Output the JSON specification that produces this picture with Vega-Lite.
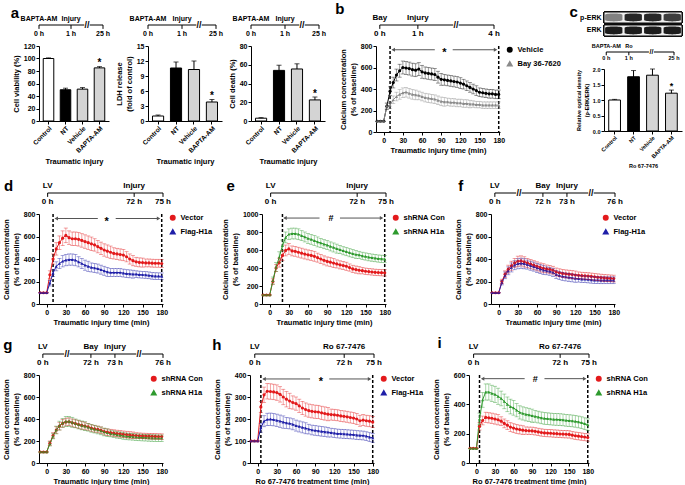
{
"$schema": "https://vega.github.io/schema/vega-lite/v6.json",
"background": "white",
"padding": {"left": 2, "top": 2, "right": 2, "bottom": 2},
"config": {
  "font": "Liberation Sans",
  "view": {"stroke": null},
  "axis": {"labelFontSize": 7, "labelFontWeight": "bold", "labelColor": "#000", "titleFontSize": 7.5, "titleFontWeight": "bold", "titleColor": "#000", "domainColor": "#000", "tickColor": "#000", "grid": false, "tickSize": 3, "labelPadding": 1, "titlePadding": 3, "labelOverlap": false, "labelFlush": false},
  "legend": {"labelFontSize": 7.5, "labelFontWeight": "bold", "labelColor": "#000", "symbolSize": 20, "rowPadding": 3, "padding": 0, "offset": 5},
  "concat": {"spacing": 10}
},
"resolve": {"scale": {"color": "independent", "shape": "independent", "opacity": "independent"}},
"spacing": 10,
"vconcat": [
{
 "resolve": {"scale": {"color": "independent", "shape": "independent", "opacity": "independent"}},
 "spacing": 8,
 "hconcat": [
  {
   "spacing": 4,
   "hconcat": [
    {"spacing": 4, "vconcat": [
     {"width": 64, "height": 26,
      "data": {"values": [{"k": "0 h", "top": "BAPTA-AM", "kind": "t"}, {"k": "1 h", "top": "Injury", "kind": "t"}, {"k": "br", "top": "", "kind": "b"}, {"k": "25 h", "top": "", "kind": "t"}]},
      "encoding": {"x": {"field": "k", "type": "ordinal", "scale": {"type": "point", "domain": ["0 h", "s1", "1 h", "br", "25 h"], "padding": 0}, "axis": null}, "y": {"datum": 0, "type": "quantitative", "scale": {"domain": [-1, 1]}, "axis": null}},
      "layer": [
       {"mark": {"type": "line", "color": "black", "strokeWidth": 1}},
       {"mark": {"type": "rule", "color": "black"}, "transform": [{"filter": "datum.kind=='t'"}], "encoding": {"y2": {"datum": -0.3}}},
       {"mark": {"type": "point", "shape": "square", "filled": true, "color": "white", "size": 30, "opacity": 1}, "transform": [{"filter": "datum.kind=='b'"}]},
       {"mark": {"type": "text", "text": "//", "fontSize": 9, "fontWeight": "bold", "baseline": "middle"}, "transform": [{"filter": "datum.kind=='b'"}]},
       {"mark": {"type": "text", "baseline": "bottom", "dy": -3, "fontSize": 7, "fontWeight": "bold"}, "encoding": {"text": {"field": "top"}}},
       {"mark": {"type": "text", "baseline": "top", "dy": 5, "fontSize": 7, "fontWeight": "bold"}, "transform": [{"filter": "datum.kind=='t'"}], "encoding": {"text": {"field": "k"}}},
       {"data": {"values": [{}]}, "mark": {"type": "text", "text": "a", "fontSize": 15, "fontWeight": "bold", "dx": -24, "dy": -12, "baseline": "middle"}, "encoding": {"x": {"datum": "0 h", "type": "ordinal"}}}
      ]},
     {"width": 70, "height": 75,
      "data": {"values": [{"g": "Control", "v": 100, "e": 1}, {"g": "NT", "v": 50, "e": 2.5}, {"g": "Vehicle", "v": 51, "e": 2.5}, {"g": "BAPTA-AM", "v": 85, "e": 2}]},
      "encoding": {"x": {"field": "g", "type": "nominal", "sort": null, "scale": {"paddingInner": 0.38, "paddingOuter": 0.25}, "axis": {"labelAngle": -45, "labelFontSize": 6.5, "title": "Traumatic injury", "titleFontSize": 7.5, "titlePadding": 4}},
        "y": {"field": "v", "type": "quantitative", "scale": {"domain": [0, 120], "nice": false}, "axis": {"values": [0, 20, 40, 60, 80, 100, 120], "labelOverlap": false, "title": "Cell viability (%)"}}},
      "layer": [
       {"mark": {"type": "errorbar", "ticks": {"size": 5}, "color": "black", "thickness": 1}, "encoding": {"yError": {"field": "e"}}},
       {"mark": {"type": "bar", "stroke": "black", "strokeWidth": 1}, "encoding": {"color": {"field": "g", "type": "nominal", "scale": {"domain": ["Control", "NT", "Vehicle", "BAPTA-AM"], "range": ["#ffffff", "#000000", "#d4d4d4", "#d4d4d4"]}, "legend": null}}},
       {"data": {"values": [{"g": "BAPTA-AM", "v": 88}]}, "mark": {"type": "text", "text": "*", "fontSize": 10, "fontWeight": "bold", "baseline": "alphabetic"}}
      ]}
    ]},
    {"spacing": 4, "vconcat": [
     {"width": 68, "height": 26,
      "data": {"values": [{"k": "0 h", "top": "BAPTA-AM", "kind": "t"}, {"k": "1 h", "top": "Injury", "kind": "t"}, {"k": "br", "top": "", "kind": "b"}, {"k": "25 h", "top": "", "kind": "t"}]},
      "encoding": {"x": {"field": "k", "type": "ordinal", "scale": {"type": "point", "domain": ["0 h", "s1", "1 h", "br", "25 h"], "padding": 0}, "axis": null}, "y": {"datum": 0, "type": "quantitative", "scale": {"domain": [-1, 1]}, "axis": null}},
      "layer": [
       {"mark": {"type": "line", "color": "black", "strokeWidth": 1}},
       {"mark": {"type": "rule", "color": "black"}, "transform": [{"filter": "datum.kind=='t'"}], "encoding": {"y2": {"datum": -0.3}}},
       {"mark": {"type": "point", "shape": "square", "filled": true, "color": "white", "size": 30, "opacity": 1}, "transform": [{"filter": "datum.kind=='b'"}]},
       {"mark": {"type": "text", "text": "//", "fontSize": 9, "fontWeight": "bold", "baseline": "middle"}, "transform": [{"filter": "datum.kind=='b'"}]},
       {"mark": {"type": "text", "baseline": "bottom", "dy": -3, "fontSize": 7, "fontWeight": "bold"}, "encoding": {"text": {"field": "top"}}},
       {"mark": {"type": "text", "baseline": "top", "dy": 5, "fontSize": 7, "fontWeight": "bold"}, "transform": [{"filter": "datum.kind=='t'"}], "encoding": {"text": {"field": "k"}}}
      ]},
     {"width": 74, "height": 75,
      "data": {"values": [{"g": "Control", "v": 1.0, "e": 0.2}, {"g": "NT", "v": 10.6, "e": 1.2}, {"g": "Vehicle", "v": 10.3, "e": 1.7}, {"g": "BAPTA-AM", "v": 3.8, "e": 0.5}]},
      "encoding": {"x": {"field": "g", "type": "nominal", "sort": null, "scale": {"paddingInner": 0.38, "paddingOuter": 0.25}, "axis": {"labelAngle": -45, "labelFontSize": 6.5, "title": "Traumatic injury", "titleFontSize": 7.5, "titlePadding": 4}},
        "y": {"field": "v", "type": "quantitative", "scale": {"domain": [0, 15], "nice": false}, "axis": {"values": [0, 3, 6, 9, 12, 15], "labelOverlap": false, "title": ["LDH release", "(fold of control)"]}}},
      "layer": [
       {"mark": {"type": "errorbar", "ticks": {"size": 5}, "color": "black", "thickness": 1}, "encoding": {"yError": {"field": "e"}}},
       {"mark": {"type": "bar", "stroke": "black", "strokeWidth": 1}, "encoding": {"color": {"field": "g", "type": "nominal", "scale": {"domain": ["Control", "NT", "Vehicle", "BAPTA-AM"], "range": ["#ffffff", "#000000", "#d4d4d4", "#d4d4d4"]}, "legend": null}}},
       {"data": {"values": [{"g": "BAPTA-AM", "v": 4.4}]}, "mark": {"type": "text", "text": "*", "fontSize": 10, "fontWeight": "bold", "baseline": "alphabetic"}}
      ]}
    ]},
    {"spacing": 4, "vconcat": [
     {"width": 68, "height": 26,
      "data": {"values": [{"k": "0 h", "top": "BAPTA-AM", "kind": "t"}, {"k": "1 h", "top": "Injury", "kind": "t"}, {"k": "br", "top": "", "kind": "b"}, {"k": "25 h", "top": "", "kind": "t"}]},
      "encoding": {"x": {"field": "k", "type": "ordinal", "scale": {"type": "point", "domain": ["0 h", "s1", "1 h", "br", "25 h"], "padding": 0}, "axis": null}, "y": {"datum": 0, "type": "quantitative", "scale": {"domain": [-1, 1]}, "axis": null}},
      "layer": [
       {"mark": {"type": "line", "color": "black", "strokeWidth": 1}},
       {"mark": {"type": "rule", "color": "black"}, "transform": [{"filter": "datum.kind=='t'"}], "encoding": {"y2": {"datum": -0.3}}},
       {"mark": {"type": "point", "shape": "square", "filled": true, "color": "white", "size": 30, "opacity": 1}, "transform": [{"filter": "datum.kind=='b'"}]},
       {"mark": {"type": "text", "text": "//", "fontSize": 9, "fontWeight": "bold", "baseline": "middle"}, "transform": [{"filter": "datum.kind=='b'"}]},
       {"mark": {"type": "text", "baseline": "bottom", "dy": -3, "fontSize": 7, "fontWeight": "bold"}, "encoding": {"text": {"field": "top"}}},
       {"mark": {"type": "text", "baseline": "top", "dy": 5, "fontSize": 7, "fontWeight": "bold"}, "transform": [{"filter": "datum.kind=='t'"}], "encoding": {"text": {"field": "k"}}}
      ]},
     {"width": 74, "height": 75,
      "data": {"values": [{"g": "Control", "v": 3, "e": 0.6}, {"g": "NT", "v": 54, "e": 5.5}, {"g": "Vehicle", "v": 55.5, "e": 5.5}, {"g": "BAPTA-AM", "v": 22.5, "e": 3}]},
      "encoding": {"x": {"field": "g", "type": "nominal", "sort": null, "scale": {"paddingInner": 0.38, "paddingOuter": 0.25}, "axis": {"labelAngle": -45, "labelFontSize": 6.5, "title": "Traumatic injury", "titleFontSize": 7.5, "titlePadding": 4}},
        "y": {"field": "v", "type": "quantitative", "scale": {"domain": [0, 80], "nice": false}, "axis": {"values": [0, 20, 40, 60, 80], "labelOverlap": false, "title": "Cell death (%)"}}},
      "layer": [
       {"mark": {"type": "errorbar", "ticks": {"size": 5}, "color": "black", "thickness": 1}, "encoding": {"yError": {"field": "e"}}},
       {"mark": {"type": "bar", "stroke": "black", "strokeWidth": 1}, "encoding": {"color": {"field": "g", "type": "nominal", "scale": {"domain": ["Control", "NT", "Vehicle", "BAPTA-AM"], "range": ["#ffffff", "#000000", "#d4d4d4", "#d4d4d4"]}, "legend": null}}},
       {"data": {"values": [{"g": "BAPTA-AM", "v": 26}]}, "mark": {"type": "text", "text": "*", "fontSize": 10, "fontWeight": "bold", "baseline": "alphabetic"}}
      ]}
    ]}
   ]
  },
  {"spacing": 4, "resolve": {"scale": {"color": "independent", "shape": "independent"}}, "vconcat": [
   {"width": 118, "height": 26,
    "data": {"values": [{"k": "0 h", "top": "Bay", "kind": "t"}, {"k": "1 h", "top": "Injury", "kind": "t"}, {"k": "br", "top": "", "kind": "b"}, {"k": "4 h", "top": "", "kind": "t"}]},
    "encoding": {"x": {"field": "k", "type": "ordinal", "scale": {"type": "point", "domain": ["0 h", "1 h", "br", "4 h"], "padding": 0.05, "align": 1}, "axis": null}, "y": {"datum": 0, "type": "quantitative", "scale": {"domain": [-1, 1]}, "axis": null}},
    "layer": [
     {"mark": {"type": "line", "color": "black", "strokeWidth": 1}},
     {"mark": {"type": "rule", "color": "black"}, "transform": [{"filter": "datum.kind=='t'"}], "encoding": {"y2": {"datum": -0.3}}},
     {"mark": {"type": "point", "shape": "square", "filled": true, "color": "white", "size": 30, "opacity": 1}, "transform": [{"filter": "datum.kind=='b'"}]},
     {"mark": {"type": "text", "text": "//", "fontSize": 9, "fontWeight": "bold", "baseline": "middle"}, "transform": [{"filter": "datum.kind=='b'"}]},
     {"mark": {"type": "text", "baseline": "bottom", "dy": -3, "fontSize": 8, "fontWeight": "bold"}, "encoding": {"text": {"field": "top"}}},
     {"mark": {"type": "text", "baseline": "top", "dy": 5, "fontSize": 8, "fontWeight": "bold"}, "transform": [{"filter": "datum.kind=='t'"}], "encoding": {"text": {"field": "k"}}},
     {"data": {"values": [{}]}, "mark": {"type": "text", "text": "b", "fontSize": 15, "fontWeight": "bold", "dx": -40, "dy": -16, "baseline": "middle"}, "encoding": {"x": {"datum": "0 h", "type": "ordinal"}}}
    ]},
   {"width": 124, "height": 86,
    "encoding": {"x": {"field": "t", "type": "quantitative", "scale": {"domain": [-12, 182], "nice": false, "zero": false}, "axis": {"values": [0, 30, 60, 90, 120, 150, 180], "title": "Traumatic injury time (min)"}},
      "y": {"field": "y", "type": "quantitative", "scale": {"domain": [0, 800], "nice": false}, "axis": {"values": [0, 200, 400, 600, 800], "labelOverlap": false, "title": ["Calcium concentration", "(% of baseline)"]}}},
    "layer": [
     {"data": {"values": [{"t": 10}, {"t": 180}]}, "mark": {"type": "rule", "strokeDash": [3, 2], "strokeWidth": 1.5, "color": "black"}, "encoding": {"y": null}},
     {"data": {"values": [{"t": 14, "t2": 80, "y": 765}, {"t": 108, "t2": 176, "y": 765}]}, "mark": {"type": "rule", "color": "#555", "strokeWidth": 1}, "encoding": {"x2": {"field": "t2"}}},
     {"data": {"values": [{"t": 15, "y": 765}]}, "mark": {"type": "point", "shape": "triangle-left", "filled": true, "size": 16, "color": "#555", "opacity": 1}},
     {"data": {"values": [{"t": 175, "y": 765}]}, "mark": {"type": "point", "shape": "triangle-right", "filled": true, "size": 16, "color": "#555", "opacity": 1}},
     {"data": {"values": [{"t": 95, "y": 765}]}, "mark": {"type": "text", "text": "*", "fontSize": 11, "fontWeight": "bold", "baseline": "alphabetic", "dy": 6}},
     {"data": {"values": [
{"s":"Vehicle","t":-10,"y":100,"e":0},{"s":"Vehicle","t":-5,"y":100,"e":0},{"s":"Vehicle","t":0,"y":100,"e":0},{"s":"Vehicle","t":5,"y":240,"e":30},{"s":"Vehicle","t":10,"y":380,"e":40},{"s":"Vehicle","t":15,"y":460,"e":50},{"s":"Vehicle","t":20,"y":530,"e":55},{"s":"Vehicle","t":25,"y":570,"e":60},{"s":"Vehicle","t":30,"y":600,"e":60},{"s":"Vehicle","t":35,"y":595,"e":60},{"s":"Vehicle","t":40,"y":590,"e":60},{"s":"Vehicle","t":45,"y":580,"e":60},{"s":"Vehicle","t":50,"y":575,"e":60},{"s":"Vehicle","t":55,"y":585,"e":60},{"s":"Vehicle","t":60,"y":560,"e":60},{"s":"Vehicle","t":65,"y":550,"e":55},{"s":"Vehicle","t":70,"y":545,"e":55},{"s":"Vehicle","t":75,"y":540,"e":55},{"s":"Vehicle","t":80,"y":535,"e":55},{"s":"Vehicle","t":85,"y":510,"e":55},{"s":"Vehicle","t":90,"y":490,"e":55},{"s":"Vehicle","t":95,"y":485,"e":50},{"s":"Vehicle","t":100,"y":480,"e":50},{"s":"Vehicle","t":105,"y":475,"e":50},{"s":"Vehicle","t":110,"y":470,"e":50},{"s":"Vehicle","t":115,"y":465,"e":50},{"s":"Vehicle","t":120,"y":455,"e":50},{"s":"Vehicle","t":125,"y":445,"e":45},{"s":"Vehicle","t":130,"y":430,"e":45},{"s":"Vehicle","t":135,"y":415,"e":45},{"s":"Vehicle","t":140,"y":400,"e":45},{"s":"Vehicle","t":145,"y":385,"e":45},{"s":"Vehicle","t":150,"y":370,"e":40},{"s":"Vehicle","t":155,"y":365,"e":40},{"s":"Vehicle","t":160,"y":360,"e":40},{"s":"Vehicle","t":165,"y":355,"e":40},{"s":"Vehicle","t":170,"y":355,"e":40},{"s":"Vehicle","t":175,"y":350,"e":40},{"s":"Vehicle","t":180,"y":350,"e":40},
{"s":"Bay 36-7620","t":-10,"y":100,"e":0},{"s":"Bay 36-7620","t":-5,"y":100,"e":0},{"s":"Bay 36-7620","t":0,"y":100,"e":0},{"s":"Bay 36-7620","t":5,"y":240,"e":25},{"s":"Bay 36-7620","t":10,"y":250,"e":30},{"s":"Bay 36-7620","t":15,"y":300,"e":35},{"s":"Bay 36-7620","t":20,"y":330,"e":40},{"s":"Bay 36-7620","t":25,"y":350,"e":45},{"s":"Bay 36-7620","t":30,"y":365,"e":45},{"s":"Bay 36-7620","t":35,"y":370,"e":45},{"s":"Bay 36-7620","t":40,"y":360,"e":45},{"s":"Bay 36-7620","t":45,"y":350,"e":45},{"s":"Bay 36-7620","t":50,"y":345,"e":45},{"s":"Bay 36-7620","t":55,"y":340,"e":40},{"s":"Bay 36-7620","t":60,"y":330,"e":40},{"s":"Bay 36-7620","t":65,"y":320,"e":40},{"s":"Bay 36-7620","t":70,"y":315,"e":40},{"s":"Bay 36-7620","t":75,"y":310,"e":40},{"s":"Bay 36-7620","t":80,"y":305,"e":40},{"s":"Bay 36-7620","t":85,"y":295,"e":40},{"s":"Bay 36-7620","t":90,"y":285,"e":40},{"s":"Bay 36-7620","t":95,"y":280,"e":40},{"s":"Bay 36-7620","t":100,"y":280,"e":35},{"s":"Bay 36-7620","t":105,"y":275,"e":35},{"s":"Bay 36-7620","t":110,"y":275,"e":35},{"s":"Bay 36-7620","t":115,"y":270,"e":35},{"s":"Bay 36-7620","t":120,"y":270,"e":35},{"s":"Bay 36-7620","t":125,"y":265,"e":35},{"s":"Bay 36-7620","t":130,"y":265,"e":35},{"s":"Bay 36-7620","t":135,"y":260,"e":35},{"s":"Bay 36-7620","t":140,"y":260,"e":30},{"s":"Bay 36-7620","t":145,"y":255,"e":30},{"s":"Bay 36-7620","t":150,"y":255,"e":30},{"s":"Bay 36-7620","t":155,"y":250,"e":30},{"s":"Bay 36-7620","t":160,"y":250,"e":30},{"s":"Bay 36-7620","t":165,"y":250,"e":30},{"s":"Bay 36-7620","t":170,"y":250,"e":30},{"s":"Bay 36-7620","t":175,"y":250,"e":30},{"s":"Bay 36-7620","t":180,"y":250,"e":30}
     ]},
      "encoding": {"color": {"field": "s", "type": "nominal", "scale": {"domain": ["Vehicle", "Bay 36-7620"], "range": ["#000000", "#8a8a8a"]}, "legend": {"title": null}}},
      "layer": [
       {"mark": {"type": "line", "strokeWidth": 1}},
       {"mark": {"type": "point", "filled": true, "size": 10, "opacity": 1}, "encoding": {"shape": {"field": "s", "type": "nominal", "scale": {"domain": ["Vehicle", "Bay 36-7620"], "range": ["circle", "triangle-up"]}, "legend": {"title": null}}}},
       {"mark": {"type": "errorbar", "ticks": {"size": 4}, "thickness": 0.8, "opacity": 0.5}, "encoding": {"yError": {"field": "e"}}}
      ]}
    ]}
  ]},
  {"spacing": 4, "resolve": {"scale": {"color": "independent", "opacity": "independent"}}, "vconcat": [
   {"width": 78, "height": 24,
    "data": {"values": [{"r": "p-ERK", "l": "1", "i": 0.5}, {"r": "p-ERK", "l": "2", "i": 0.9}, {"r": "p-ERK", "l": "3", "i": 0.9}, {"r": "p-ERK", "l": "4", "i": 0.8}, {"r": "ERK", "l": "1", "i": 0.95}, {"r": "ERK", "l": "2", "i": 0.95}, {"r": "ERK", "l": "3", "i": 0.95}, {"r": "ERK", "l": "4", "i": 0.95}]},
    "layer": [
     {"mark": {"type": "rect", "fill": "#f0f0f0", "stroke": "black", "strokeWidth": 1}, "encoding": {"y": {"field": "r", "type": "nominal", "sort": ["p-ERK", "ERK"], "scale": {"paddingInner": 0.15, "paddingOuter": 0}, "axis": {"title": null, "domain": false, "ticks": false, "labelFontSize": 7, "labelPadding": 3}}}},
     {"mark": {"type": "point", "shape": "M-1,-0.3C-1,-0.5 1,-0.5 1,-0.3L1,0.3C1,0.5 -1,0.5 -1,0.3Z", "filled": true, "color": "#111", "size": 300}, "encoding": {"x": {"field": "l", "type": "ordinal", "scale": {"type": "point", "padding": 0.5}, "axis": null}, "y": {"field": "r", "type": "nominal", "sort": ["p-ERK", "ERK"]}, "opacity": {"field": "i", "type": "quantitative", "scale": {"domain": [0, 1], "range": [0, 1]}, "legend": null}}},
     {"data": {"values": [{}]}, "mark": {"type": "text", "text": "c", "fontSize": 15, "fontWeight": "bold", "dx": -40, "dy": -6, "baseline": "middle"}, "encoding": {"x": {"datum": "1", "type": "ordinal"}, "y": {"datum": "p-ERK", "type": "nominal"}}}
    ]},
   {"width": 70, "height": 22,
    "data": {"values": [{"k": "0 h", "top": "BAPTA-AM", "kind": "t"}, {"k": "1 h", "top": "Ro", "kind": "t"}, {"k": "br", "top": "", "kind": "b"}, {"k": "25 h", "top": "", "kind": "t"}]},
    "encoding": {"x": {"field": "k", "type": "ordinal", "scale": {"type": "point", "domain": ["0 h", "1 h", "br", "25 h"], "padding": 0.05, "align": 1}, "axis": null}, "y": {"datum": 0, "type": "quantitative", "scale": {"domain": [-1, 1]}, "axis": null}},
    "layer": [
     {"mark": {"type": "line", "color": "black", "strokeWidth": 1}},
     {"mark": {"type": "rule", "color": "black"}, "transform": [{"filter": "datum.kind=='t'"}], "encoding": {"y2": {"datum": -0.3}}},
     {"mark": {"type": "point", "shape": "square", "filled": true, "color": "white", "size": 25, "opacity": 1}, "transform": [{"filter": "datum.kind=='b'"}]},
     {"mark": {"type": "text", "text": "//", "fontSize": 7, "fontWeight": "bold", "baseline": "middle"}, "transform": [{"filter": "datum.kind=='b'"}]},
     {"mark": {"type": "text", "baseline": "bottom", "dy": -3, "fontSize": 5.5, "fontWeight": "bold"}, "encoding": {"text": {"field": "top"}}},
     {"mark": {"type": "text", "baseline": "top", "dy": 4, "fontSize": 5.5, "fontWeight": "bold"}, "transform": [{"filter": "datum.kind=='t'"}], "encoding": {"text": {"field": "k"}}}
    ]},
   {"width": 78, "height": 62,
    "data": {"values": [{"g": "Control", "v": 1.0, "e": 0.02}, {"g": "NT", "v": 1.75, "e": 0.2}, {"g": "Vehicle", "v": 1.8, "e": 0.2}, {"g": "BAPTA-AM", "v": 1.22, "e": 0.1}]},
    "encoding": {"x": {"field": "g", "type": "nominal", "sort": null, "scale": {"paddingInner": 0.38, "paddingOuter": 0.25}, "axis": {"labelAngle": -45, "labelFontSize": 5.5, "title": "Ro 67-7476", "titleFontSize": 5.5, "titlePadding": 4}},
      "y": {"field": "v", "type": "quantitative", "scale": {"domain": [0, 2], "nice": false}, "axis": {"values": [0, 0.5, 1, 1.5, 2], "labelOverlap": false, "format": ".1f", "labelFontSize": 5.5, "titleFontSize": 5.5, "title": ["Relative optical density", "(p-ERK/ERK)"]}}},
    "layer": [
     {"mark": {"type": "errorbar", "ticks": {"size": 5}, "color": "black", "thickness": 1}, "encoding": {"yError": {"field": "e"}}},
     {"mark": {"type": "bar", "stroke": "black", "strokeWidth": 1}, "encoding": {"color": {"field": "g", "type": "nominal", "scale": {"domain": ["Control", "NT", "Vehicle", "BAPTA-AM"], "range": ["#ffffff", "#000000", "#d4d4d4", "#d4d4d4"]}, "legend": null}}},
     {"data": {"values": [{"g": "BAPTA-AM", "v": 1.34}]}, "mark": {"type": "text", "text": "*", "fontSize": 9, "fontWeight": "bold", "baseline": "alphabetic"}}
    ]}
  ]}
 ]
},
{
 "resolve": {"scale": {"color": "independent", "shape": "independent"}},
 "spacing": 8,
 "hconcat": [
  {"spacing": 4, "resolve": {"scale": {"color": "independent", "shape": "independent"}}, "vconcat": [
   {"width": 124, "height": 26,
    "data": {"values": [{"k": "0 h", "top": "LV", "kind": "t"}, {"k": "72 h", "top": "Injury", "kind": "t"}, {"k": "75 h", "top": "", "kind": "t"}]},
    "encoding": {"x": {"field": "k", "type": "ordinal", "scale": {"type": "point", "domain": ["0 h", "q1", "q2", "72 h", "75 h"], "padding": 0.15, "align": 1}, "axis": null}, "y": {"datum": 0, "type": "quantitative", "scale": {"domain": [-1, 1]}, "axis": null}},
    "layer": [
     {"mark": {"type": "line", "color": "black", "strokeWidth": 1}},
     {"mark": {"type": "rule", "color": "black"}, "transform": [{"filter": "datum.kind=='t'"}], "encoding": {"y2": {"datum": -0.3}}},
     {"mark": {"type": "text", "baseline": "bottom", "dy": -3, "fontSize": 8, "fontWeight": "bold"}, "encoding": {"text": {"field": "top"}}},
     {"mark": {"type": "text", "baseline": "top", "dy": 5, "fontSize": 8, "fontWeight": "bold"}, "transform": [{"filter": "datum.kind=='t'"}], "encoding": {"text": {"field": "k"}}},
     {"data": {"values": [{}]}, "mark": {"type": "text", "text": "d", "fontSize": 15, "fontWeight": "bold", "dx": -39, "dy": -7, "baseline": "middle"}, "encoding": {"x": {"datum": "0 h", "type": "ordinal"}}}
    ]},
   {"width": 124, "height": 90,
    "encoding": {"x": {"field": "t", "type": "quantitative", "scale": {"domain": [-12, 182], "nice": false, "zero": false}, "axis": {"values": [0, 30, 60, 90, 120, 150, 180], "title": "Traumatic injury time (min)"}},
      "y": {"field": "y", "type": "quantitative", "scale": {"domain": [0, 800], "nice": false}, "axis": {"values": [0, 200, 400, 600, 800], "labelOverlap": false, "title": ["Calcium concentration", "(% of baseline)"]}}},
    "layer": [
     {"data": {"values": [{"t": 10}, {"t": 180}]}, "mark": {"type": "rule", "strokeDash": [3, 2], "strokeWidth": 1.5, "color": "black"}, "encoding": {"y": null}},
     {"data": {"values": [{"t": 14, "t2": 80, "y": 760}, {"t": 108, "t2": 176, "y": 760}]}, "mark": {"type": "rule", "color": "#555", "strokeWidth": 1}, "encoding": {"x2": {"field": "t2"}}},
     {"data": {"values": [{"t": 15, "y": 760}]}, "mark": {"type": "point", "shape": "triangle-left", "filled": true, "size": 16, "color": "#555", "opacity": 1}},
     {"data": {"values": [{"t": 175, "y": 760}]}, "mark": {"type": "point", "shape": "triangle-right", "filled": true, "size": 16, "color": "#555", "opacity": 1}},
     {"data": {"values": [{"t": 94, "y": 760}]}, "mark": {"type": "text", "text": "*", "fontSize": 11, "fontWeight": "bold", "baseline": "alphabetic", "dy": 6}},
     {"data": {"values": [
{"s":"Vector","t":-10,"y":100,"e":0},{"s":"Vector","t":-5,"y":100,"e":0},{"s":"Vector","t":0,"y":100,"e":0},{"s":"Vector","t":5,"y":260,"e":35},{"s":"Vector","t":10,"y":400,"e":45},{"s":"Vector","t":15,"y":490,"e":55},{"s":"Vector","t":20,"y":545,"e":60},{"s":"Vector","t":25,"y":585,"e":65},{"s":"Vector","t":30,"y":610,"e":65},{"s":"Vector","t":35,"y":590,"e":60},{"s":"Vector","t":40,"y":580,"e":60},{"s":"Vector","t":45,"y":580,"e":60},{"s":"Vector","t":50,"y":575,"e":60},{"s":"Vector","t":55,"y":565,"e":60},{"s":"Vector","t":60,"y":555,"e":60},{"s":"Vector","t":65,"y":545,"e":60},{"s":"Vector","t":70,"y":535,"e":60},{"s":"Vector","t":75,"y":525,"e":55},{"s":"Vector","t":80,"y":510,"e":55},{"s":"Vector","t":85,"y":495,"e":55},{"s":"Vector","t":90,"y":480,"e":55},{"s":"Vector","t":95,"y":470,"e":55},{"s":"Vector","t":100,"y":460,"e":55},{"s":"Vector","t":105,"y":450,"e":50},{"s":"Vector","t":110,"y":445,"e":50},{"s":"Vector","t":115,"y":440,"e":50},{"s":"Vector","t":120,"y":435,"e":50},{"s":"Vector","t":125,"y":420,"e":45},{"s":"Vector","t":130,"y":400,"e":45},{"s":"Vector","t":135,"y":385,"e":45},{"s":"Vector","t":140,"y":375,"e":40},{"s":"Vector","t":145,"y":370,"e":40},{"s":"Vector","t":150,"y":368,"e":40},{"s":"Vector","t":155,"y":365,"e":35},{"s":"Vector","t":160,"y":365,"e":35},{"s":"Vector","t":165,"y":363,"e":35},{"s":"Vector","t":170,"y":362,"e":35},{"s":"Vector","t":175,"y":362,"e":35},{"s":"Vector","t":180,"y":360,"e":35},
{"s":"Flag-H1a","t":-10,"y":100,"e":0},{"s":"Flag-H1a","t":-5,"y":100,"e":0},{"s":"Flag-H1a","t":0,"y":100,"e":0},{"s":"Flag-H1a","t":5,"y":185,"e":25},{"s":"Flag-H1a","t":10,"y":275,"e":30},{"s":"Flag-H1a","t":15,"y":335,"e":40},{"s":"Flag-H1a","t":20,"y":360,"e":45},{"s":"Flag-H1a","t":25,"y":380,"e":50},{"s":"Flag-H1a","t":30,"y":390,"e":50},{"s":"Flag-H1a","t":35,"y":395,"e":50},{"s":"Flag-H1a","t":40,"y":395,"e":50},{"s":"Flag-H1a","t":45,"y":390,"e":50},{"s":"Flag-H1a","t":50,"y":375,"e":45},{"s":"Flag-H1a","t":55,"y":360,"e":45},{"s":"Flag-H1a","t":60,"y":345,"e":45},{"s":"Flag-H1a","t":65,"y":335,"e":45},{"s":"Flag-H1a","t":70,"y":325,"e":40},{"s":"Flag-H1a","t":75,"y":320,"e":40},{"s":"Flag-H1a","t":80,"y":315,"e":40},{"s":"Flag-H1a","t":85,"y":305,"e":40},{"s":"Flag-H1a","t":90,"y":295,"e":40},{"s":"Flag-H1a","t":95,"y":285,"e":40},{"s":"Flag-H1a","t":100,"y":280,"e":35},{"s":"Flag-H1a","t":105,"y":280,"e":35},{"s":"Flag-H1a","t":110,"y":280,"e":35},{"s":"Flag-H1a","t":115,"y":280,"e":35},{"s":"Flag-H1a","t":120,"y":275,"e":35},{"s":"Flag-H1a","t":125,"y":270,"e":35},{"s":"Flag-H1a","t":130,"y":268,"e":35},{"s":"Flag-H1a","t":135,"y":265,"e":35},{"s":"Flag-H1a","t":140,"y":265,"e":30},{"s":"Flag-H1a","t":145,"y":262,"e":30},{"s":"Flag-H1a","t":150,"y":260,"e":30},{"s":"Flag-H1a","t":155,"y":258,"e":30},{"s":"Flag-H1a","t":160,"y":255,"e":30},{"s":"Flag-H1a","t":165,"y":250,"e":30},{"s":"Flag-H1a","t":170,"y":248,"e":30},{"s":"Flag-H1a","t":175,"y":247,"e":30},{"s":"Flag-H1a","t":180,"y":246,"e":30}
     ]},
      "encoding": {"color": {"field": "s", "type": "nominal", "scale": {"domain": ["Vector", "Flag-H1a"], "range": ["#e31a1c", "#1f1fa8"]}, "legend": {"title": null}}},
      "layer": [
       {"mark": {"type": "line", "strokeWidth": 1}},
       {"mark": {"type": "point", "filled": true, "size": 10, "opacity": 1}, "encoding": {"shape": {"field": "s", "type": "nominal", "scale": {"domain": ["Vector", "Flag-H1a"], "range": ["circle", "triangle-up"]}, "legend": {"title": null}}}},
       {"mark": {"type": "errorbar", "ticks": {"size": 4}, "thickness": 0.8, "opacity": 0.5}, "encoding": {"yError": {"field": "e"}}}
      ]}
    ]}
  ]},
  {"spacing": 4, "resolve": {"scale": {"color": "independent", "shape": "independent"}}, "vconcat": [
   {"width": 124, "height": 26,
    "data": {"values": [{"k": "0 h", "top": "LV", "kind": "t"}, {"k": "72 h", "top": "Injury", "kind": "t"}, {"k": "75 h", "top": "", "kind": "t"}]},
    "encoding": {"x": {"field": "k", "type": "ordinal", "scale": {"type": "point", "domain": ["0 h", "q1", "q2", "72 h", "75 h"], "padding": 0.15, "align": 1}, "axis": null}, "y": {"datum": 0, "type": "quantitative", "scale": {"domain": [-1, 1]}, "axis": null}},
    "layer": [
     {"mark": {"type": "line", "color": "black", "strokeWidth": 1}},
     {"mark": {"type": "rule", "color": "black"}, "transform": [{"filter": "datum.kind=='t'"}], "encoding": {"y2": {"datum": -0.3}}},
     {"mark": {"type": "text", "baseline": "bottom", "dy": -3, "fontSize": 8, "fontWeight": "bold"}, "encoding": {"text": {"field": "top"}}},
     {"mark": {"type": "text", "baseline": "top", "dy": 5, "fontSize": 8, "fontWeight": "bold"}, "transform": [{"filter": "datum.kind=='t'"}], "encoding": {"text": {"field": "k"}}},
     {"data": {"values": [{}]}, "mark": {"type": "text", "text": "e", "fontSize": 15, "fontWeight": "bold", "dx": -40, "dy": -7, "baseline": "middle"}, "encoding": {"x": {"datum": "0 h", "type": "ordinal"}}}
    ]},
   {"width": 124, "height": 90,
    "encoding": {"x": {"field": "t", "type": "quantitative", "scale": {"domain": [-12, 182], "nice": false, "zero": false}, "axis": {"values": [0, 30, 60, 90, 120, 150, 180], "title": "Traumatic injury time (min)"}},
      "y": {"field": "y", "type": "quantitative", "scale": {"domain": [0, 1000], "nice": false}, "axis": {"values": [0, 200, 400, 600, 800, 1000], "format": "d", "labelOverlap": false, "title": ["Calcium concentration", "(% of baseline)"]}}},
    "layer": [
     {"data": {"values": [{"t": 20}, {"t": 180}]}, "mark": {"type": "rule", "strokeDash": [3, 2], "strokeWidth": 1.5, "color": "black"}, "encoding": {"y": null}},
     {"data": {"values": [{"t": 23, "t2": 78, "y": 955}, {"t": 110, "t2": 176, "y": 955}]}, "mark": {"type": "rule", "color": "#555", "strokeWidth": 1}, "encoding": {"x2": {"field": "t2"}}},
     {"data": {"values": [{"t": 24, "y": 955}]}, "mark": {"type": "point", "shape": "triangle-left", "filled": true, "size": 16, "color": "#555", "opacity": 1}},
     {"data": {"values": [{"t": 175, "y": 955}]}, "mark": {"type": "point", "shape": "triangle-right", "filled": true, "size": 16, "color": "#555", "opacity": 1}},
     {"data": {"values": [{"t": 96, "y": 955}]}, "mark": {"type": "text", "text": "#", "fontSize": 9, "fontWeight": "bold", "baseline": "alphabetic", "dy": 3}},
     {"data": {"values": [
{"s":"shRNA Con","t":-10,"y":100,"e":0},{"s":"shRNA Con","t":-5,"y":100,"e":0},{"s":"shRNA Con","t":0,"y":100,"e":0},{"s":"shRNA Con","t":5,"y":250,"e":30},{"s":"shRNA Con","t":10,"y":400,"e":40},{"s":"shRNA Con","t":15,"y":460,"e":50},{"s":"shRNA Con","t":20,"y":540,"e":55},{"s":"shRNA Con","t":25,"y":595,"e":60},{"s":"shRNA Con","t":30,"y":612,"e":60},{"s":"shRNA Con","t":35,"y":590,"e":55},{"s":"shRNA Con","t":40,"y":585,"e":55},{"s":"shRNA Con","t":45,"y":575,"e":55},{"s":"shRNA Con","t":50,"y":565,"e":55},{"s":"shRNA Con","t":55,"y":555,"e":55},{"s":"shRNA Con","t":60,"y":546,"e":55},{"s":"shRNA Con","t":65,"y":540,"e":55},{"s":"shRNA Con","t":70,"y":530,"e":55},{"s":"shRNA Con","t":75,"y":515,"e":50},{"s":"shRNA Con","t":80,"y":500,"e":50},{"s":"shRNA Con","t":85,"y":485,"e":50},{"s":"shRNA Con","t":90,"y":473,"e":50},{"s":"shRNA Con","t":95,"y":465,"e":50},{"s":"shRNA Con","t":100,"y":455,"e":50},{"s":"shRNA Con","t":105,"y":445,"e":45},{"s":"shRNA Con","t":110,"y":435,"e":45},{"s":"shRNA Con","t":115,"y":428,"e":45},{"s":"shRNA Con","t":120,"y":419,"e":45},{"s":"shRNA Con","t":125,"y":405,"e":40},{"s":"shRNA Con","t":130,"y":390,"e":40},{"s":"shRNA Con","t":135,"y":382,"e":40},{"s":"shRNA Con","t":140,"y":375,"e":40},{"s":"shRNA Con","t":145,"y":370,"e":35},{"s":"shRNA Con","t":150,"y":364,"e":35},{"s":"shRNA Con","t":155,"y":360,"e":35},{"s":"shRNA Con","t":160,"y":356,"e":35},{"s":"shRNA Con","t":165,"y":352,"e":35},{"s":"shRNA Con","t":170,"y":350,"e":35},{"s":"shRNA Con","t":175,"y":348,"e":35},{"s":"shRNA Con","t":180,"y":346,"e":35},
{"s":"shRNA H1a","t":-10,"y":100,"e":0},{"s":"shRNA H1a","t":-5,"y":100,"e":0},{"s":"shRNA H1a","t":0,"y":100,"e":0},{"s":"shRNA H1a","t":5,"y":260,"e":40},{"s":"shRNA H1a","t":10,"y":410,"e":50},{"s":"shRNA H1a","t":15,"y":520,"e":60},{"s":"shRNA H1a","t":20,"y":650,"e":60},{"s":"shRNA H1a","t":25,"y":740,"e":60},{"s":"shRNA H1a","t":30,"y":775,"e":60},{"s":"shRNA H1a","t":35,"y":783,"e":60},{"s":"shRNA H1a","t":40,"y":783,"e":60},{"s":"shRNA H1a","t":45,"y":775,"e":60},{"s":"shRNA H1a","t":50,"y":760,"e":55},{"s":"shRNA H1a","t":55,"y":745,"e":55},{"s":"shRNA H1a","t":60,"y":728,"e":55},{"s":"shRNA H1a","t":65,"y":718,"e":55},{"s":"shRNA H1a","t":70,"y":705,"e":55},{"s":"shRNA H1a","t":75,"y":690,"e":55},{"s":"shRNA H1a","t":80,"y":678,"e":50},{"s":"shRNA H1a","t":85,"y":665,"e":50},{"s":"shRNA H1a","t":90,"y":655,"e":50},{"s":"shRNA H1a","t":95,"y":640,"e":50},{"s":"shRNA H1a","t":100,"y":628,"e":50},{"s":"shRNA H1a","t":105,"y":615,"e":50},{"s":"shRNA H1a","t":110,"y":605,"e":45},{"s":"shRNA H1a","t":115,"y":592,"e":45},{"s":"shRNA H1a","t":120,"y":582,"e":45},{"s":"shRNA H1a","t":125,"y":570,"e":45},{"s":"shRNA H1a","t":130,"y":560,"e":45},{"s":"shRNA H1a","t":135,"y":550,"e":45},{"s":"shRNA H1a","t":140,"y":545,"e":40},{"s":"shRNA H1a","t":145,"y":535,"e":40},{"s":"shRNA H1a","t":150,"y":528,"e":40},{"s":"shRNA H1a","t":155,"y":520,"e":40},{"s":"shRNA H1a","t":160,"y":515,"e":40},{"s":"shRNA H1a","t":165,"y":510,"e":40},{"s":"shRNA H1a","t":170,"y":505,"e":40},{"s":"shRNA H1a","t":175,"y":502,"e":40},{"s":"shRNA H1a","t":180,"y":499,"e":40}
     ]},
      "encoding": {"color": {"field": "s", "type": "nominal", "scale": {"domain": ["shRNA Con", "shRNA H1a"], "range": ["#e31a1c", "#2e9a2e"]}, "legend": {"title": null}}},
      "layer": [
       {"mark": {"type": "line", "strokeWidth": 1}},
       {"mark": {"type": "point", "filled": true, "size": 10, "opacity": 1}, "encoding": {"shape": {"field": "s", "type": "nominal", "scale": {"domain": ["shRNA Con", "shRNA H1a"], "range": ["circle", "triangle-up"]}, "legend": {"title": null}}}},
       {"mark": {"type": "errorbar", "ticks": {"size": 4}, "thickness": 0.8, "opacity": 0.5}, "encoding": {"yError": {"field": "e"}}}
      ]}
    ]}
  ]},
  {"spacing": 4, "resolve": {"scale": {"color": "independent", "shape": "independent"}}, "vconcat": [
   {"width": 124, "height": 26,
    "data": {"values": [{"k": "0 h", "top": "LV", "kind": "t"}, {"k": "b1", "top": "", "kind": "b"}, {"k": "72 h", "top": "Bay", "kind": "t"}, {"k": "73 h", "top": "Injury", "kind": "t"}, {"k": "b2", "top": "", "kind": "b"}, {"k": "76 h", "top": "", "kind": "t"}]},
    "encoding": {"x": {"field": "k", "type": "ordinal", "scale": {"type": "point", "domain": ["0 h", "b1", "72 h", "73 h", "b2", "76 h"], "padding": 0.08, "align": 1}, "axis": null}, "y": {"datum": 0, "type": "quantitative", "scale": {"domain": [-1, 1]}, "axis": null}},
    "layer": [
     {"mark": {"type": "line", "color": "black", "strokeWidth": 1}},
     {"mark": {"type": "rule", "color": "black"}, "transform": [{"filter": "datum.kind=='t'"}], "encoding": {"y2": {"datum": -0.3}}},
     {"mark": {"type": "point", "shape": "square", "filled": true, "color": "white", "size": 30, "opacity": 1}, "transform": [{"filter": "datum.kind=='b'"}]},
     {"mark": {"type": "text", "text": "//", "fontSize": 9, "fontWeight": "bold", "baseline": "middle"}, "transform": [{"filter": "datum.kind=='b'"}]},
     {"mark": {"type": "text", "baseline": "bottom", "dy": -3, "fontSize": 8, "fontWeight": "bold"}, "encoding": {"text": {"field": "top"}}},
     {"mark": {"type": "text", "baseline": "top", "dy": 5, "fontSize": 8, "fontWeight": "bold"}, "transform": [{"filter": "datum.kind=='t'"}], "encoding": {"text": {"field": "k"}}},
     {"data": {"values": [{}]}, "mark": {"type": "text", "text": "f", "fontSize": 15, "fontWeight": "bold", "dx": -34, "dy": -7, "baseline": "middle"}, "encoding": {"x": {"datum": "0 h", "type": "ordinal"}}}
    ]},
   {"width": 124, "height": 90,
    "data": {"values": [
{"s":"Vector","t":-10,"y":100,"e":0},{"s":"Vector","t":-5,"y":100,"e":0},{"s":"Vector","t":0,"y":100,"e":0},{"s":"Vector","t":5,"y":200,"e":20},{"s":"Vector","t":10,"y":265,"e":30},{"s":"Vector","t":15,"y":310,"e":35},{"s":"Vector","t":20,"y":340,"e":40},{"s":"Vector","t":25,"y":365,"e":40},{"s":"Vector","t":30,"y":380,"e":45},{"s":"Vector","t":35,"y":383,"e":45},{"s":"Vector","t":40,"y":375,"e":45},{"s":"Vector","t":45,"y":365,"e":40},{"s":"Vector","t":50,"y":355,"e":40},{"s":"Vector","t":55,"y":345,"e":40},{"s":"Vector","t":60,"y":335,"e":40},{"s":"Vector","t":65,"y":325,"e":40},{"s":"Vector","t":70,"y":318,"e":40},{"s":"Vector","t":75,"y":312,"e":35},{"s":"Vector","t":80,"y":308,"e":35},{"s":"Vector","t":85,"y":300,"e":35},{"s":"Vector","t":90,"y":285,"e":35},{"s":"Vector","t":95,"y":278,"e":35},{"s":"Vector","t":100,"y":272,"e":35},{"s":"Vector","t":105,"y":268,"e":35},{"s":"Vector","t":110,"y":265,"e":35},{"s":"Vector","t":115,"y":262,"e":35},{"s":"Vector","t":120,"y":258,"e":35},{"s":"Vector","t":125,"y":255,"e":30},{"s":"Vector","t":130,"y":252,"e":30},{"s":"Vector","t":135,"y":250,"e":30},{"s":"Vector","t":140,"y":248,"e":30},{"s":"Vector","t":145,"y":245,"e":30},{"s":"Vector","t":150,"y":242,"e":30},{"s":"Vector","t":155,"y":238,"e":30},{"s":"Vector","t":160,"y":235,"e":30},{"s":"Vector","t":165,"y":232,"e":30},{"s":"Vector","t":170,"y":230,"e":30},{"s":"Vector","t":175,"y":228,"e":30},{"s":"Vector","t":180,"y":226,"e":30},
{"s":"Flag-H1a","t":-10,"y":100,"e":0},{"s":"Flag-H1a","t":-5,"y":100,"e":0},{"s":"Flag-H1a","t":0,"y":100,"e":0},{"s":"Flag-H1a","t":5,"y":190,"e":20},{"s":"Flag-H1a","t":10,"y":255,"e":30},{"s":"Flag-H1a","t":15,"y":295,"e":35},{"s":"Flag-H1a","t":20,"y":325,"e":40},{"s":"Flag-H1a","t":25,"y":345,"e":40},{"s":"Flag-H1a","t":30,"y":358,"e":45},{"s":"Flag-H1a","t":35,"y":362,"e":45},{"s":"Flag-H1a","t":40,"y":358,"e":45},{"s":"Flag-H1a","t":45,"y":350,"e":40},{"s":"Flag-H1a","t":50,"y":340,"e":40},{"s":"Flag-H1a","t":55,"y":332,"e":40},{"s":"Flag-H1a","t":60,"y":320,"e":40},{"s":"Flag-H1a","t":65,"y":310,"e":40},{"s":"Flag-H1a","t":70,"y":302,"e":40},{"s":"Flag-H1a","t":75,"y":295,"e":35},{"s":"Flag-H1a","t":80,"y":290,"e":35},{"s":"Flag-H1a","t":85,"y":280,"e":35},{"s":"Flag-H1a","t":90,"y":262,"e":35},{"s":"Flag-H1a","t":95,"y":252,"e":35},{"s":"Flag-H1a","t":100,"y":245,"e":35},{"s":"Flag-H1a","t":105,"y":240,"e":35},{"s":"Flag-H1a","t":110,"y":236,"e":35},{"s":"Flag-H1a","t":115,"y":232,"e":35},{"s":"Flag-H1a","t":120,"y":228,"e":35},{"s":"Flag-H1a","t":125,"y":225,"e":30},{"s":"Flag-H1a","t":130,"y":222,"e":30},{"s":"Flag-H1a","t":135,"y":220,"e":30},{"s":"Flag-H1a","t":140,"y":218,"e":30},{"s":"Flag-H1a","t":145,"y":215,"e":30},{"s":"Flag-H1a","t":150,"y":212,"e":30},{"s":"Flag-H1a","t":155,"y":212,"e":30},{"s":"Flag-H1a","t":160,"y":211,"e":30},{"s":"Flag-H1a","t":165,"y":211,"e":30},{"s":"Flag-H1a","t":170,"y":211,"e":30},{"s":"Flag-H1a","t":175,"y":211,"e":30},{"s":"Flag-H1a","t":180,"y":211,"e":30}
    ]},
    "encoding": {"x": {"field": "t", "type": "quantitative", "scale": {"domain": [-12, 182], "nice": false, "zero": false}, "axis": {"values": [0, 30, 60, 90, 120, 150, 180], "title": "Traumatic injury time (min)"}},
      "y": {"field": "y", "type": "quantitative", "scale": {"domain": [0, 800], "nice": false}, "axis": {"values": [0, 200, 400, 600, 800], "labelOverlap": false, "title": ["Calcium concentration", "(% of baseline)"]}},
      "color": {"field": "s", "type": "nominal", "scale": {"domain": ["Vector", "Flag-H1a"], "range": ["#e31a1c", "#1f1fa8"]}, "legend": {"title": null, "orient": "right", "offset": -14}}},
    "layer": [
     {"mark": {"type": "line", "strokeWidth": 1}},
     {"mark": {"type": "point", "filled": true, "size": 10, "opacity": 1}, "encoding": {"shape": {"field": "s", "type": "nominal", "scale": {"domain": ["Vector", "Flag-H1a"], "range": ["circle", "triangle-up"]}, "legend": {"title": null, "orient": "right", "offset": -14}}}},
     {"mark": {"type": "errorbar", "ticks": {"size": 4}, "thickness": 0.8, "opacity": 0.5}, "encoding": {"yError": {"field": "e"}}}
    ]}
  ]}
 ]
},
{
 "resolve": {"scale": {"color": "independent", "shape": "independent"}},
 "spacing": 8,
 "hconcat": [
  {"spacing": 4, "resolve": {"scale": {"color": "independent", "shape": "independent"}}, "vconcat": [
   {"width": 124, "height": 26,
    "data": {"values": [{"k": "0 h", "top": "LV", "kind": "t"}, {"k": "b1", "top": "", "kind": "b"}, {"k": "72 h", "top": "Bay", "kind": "t"}, {"k": "73 h", "top": "Injury", "kind": "t"}, {"k": "b2", "top": "", "kind": "b"}, {"k": "76 h", "top": "", "kind": "t"}]},
    "encoding": {"x": {"field": "k", "type": "ordinal", "scale": {"type": "point", "domain": ["0 h", "b1", "72 h", "73 h", "b2", "76 h"], "padding": 0.08, "align": 1}, "axis": null}, "y": {"datum": 0, "type": "quantitative", "scale": {"domain": [-1, 1]}, "axis": null}},
    "layer": [
     {"mark": {"type": "line", "color": "black", "strokeWidth": 1}},
     {"mark": {"type": "rule", "color": "black"}, "transform": [{"filter": "datum.kind=='t'"}], "encoding": {"y2": {"datum": -0.3}}},
     {"mark": {"type": "point", "shape": "square", "filled": true, "color": "white", "size": 30, "opacity": 1}, "transform": [{"filter": "datum.kind=='b'"}]},
     {"mark": {"type": "text", "text": "//", "fontSize": 9, "fontWeight": "bold", "baseline": "middle"}, "transform": [{"filter": "datum.kind=='b'"}]},
     {"mark": {"type": "text", "baseline": "bottom", "dy": -3, "fontSize": 8, "fontWeight": "bold"}, "encoding": {"text": {"field": "top"}}},
     {"mark": {"type": "text", "baseline": "top", "dy": 5, "fontSize": 8, "fontWeight": "bold"}, "transform": [{"filter": "datum.kind=='t'"}], "encoding": {"text": {"field": "k"}}},
     {"data": {"values": [{}]}, "mark": {"type": "text", "text": "g", "fontSize": 15, "fontWeight": "bold", "dx": -35, "dy": -9, "baseline": "middle"}, "encoding": {"x": {"datum": "0 h", "type": "ordinal"}}}
    ]},
   {"width": 124, "height": 88,
    "data": {"values": [
{"s":"shRNA Con","t":-10,"y":100,"e":0},{"s":"shRNA Con","t":-5,"y":100,"e":0},{"s":"shRNA Con","t":0,"y":100,"e":0},{"s":"shRNA Con","t":5,"y":180,"e":20},{"s":"shRNA Con","t":10,"y":250,"e":25},{"s":"shRNA Con","t":15,"y":300,"e":30},{"s":"shRNA Con","t":20,"y":335,"e":35},{"s":"shRNA Con","t":25,"y":360,"e":35},{"s":"shRNA Con","t":30,"y":372,"e":35},{"s":"shRNA Con","t":35,"y":375,"e":35},{"s":"shRNA Con","t":40,"y":365,"e":35},{"s":"shRNA Con","t":45,"y":358,"e":35},{"s":"shRNA Con","t":50,"y":350,"e":35},{"s":"shRNA Con","t":55,"y":342,"e":35},{"s":"shRNA Con","t":60,"y":336,"e":35},{"s":"shRNA Con","t":65,"y":328,"e":30},{"s":"shRNA Con","t":70,"y":318,"e":30},{"s":"shRNA Con","t":75,"y":310,"e":30},{"s":"shRNA Con","t":80,"y":305,"e":30},{"s":"shRNA Con","t":85,"y":298,"e":30},{"s":"shRNA Con","t":90,"y":285,"e":30},{"s":"shRNA Con","t":95,"y":280,"e":30},{"s":"shRNA Con","t":100,"y":276,"e":30},{"s":"shRNA Con","t":105,"y":272,"e":30},{"s":"shRNA Con","t":110,"y":268,"e":30},{"s":"shRNA Con","t":115,"y":265,"e":30},{"s":"shRNA Con","t":120,"y":261,"e":30},{"s":"shRNA Con","t":125,"y":258,"e":30},{"s":"shRNA Con","t":130,"y":255,"e":30},{"s":"shRNA Con","t":135,"y":252,"e":30},{"s":"shRNA Con","t":140,"y":250,"e":25},{"s":"shRNA Con","t":145,"y":248,"e":25},{"s":"shRNA Con","t":150,"y":246,"e":25},{"s":"shRNA Con","t":155,"y":245,"e":25},{"s":"shRNA Con","t":160,"y":244,"e":25},{"s":"shRNA Con","t":165,"y":243,"e":25},{"s":"shRNA Con","t":170,"y":242,"e":25},{"s":"shRNA Con","t":175,"y":241,"e":25},{"s":"shRNA Con","t":180,"y":240,"e":25},
{"s":"shRNA H1a","t":-10,"y":100,"e":0},{"s":"shRNA H1a","t":-5,"y":100,"e":0},{"s":"shRNA H1a","t":0,"y":100,"e":0},{"s":"shRNA H1a","t":5,"y":175,"e":20},{"s":"shRNA H1a","t":10,"y":245,"e":25},{"s":"shRNA H1a","t":15,"y":300,"e":35},{"s":"shRNA H1a","t":20,"y":340,"e":40},{"s":"shRNA H1a","t":25,"y":365,"e":40},{"s":"shRNA H1a","t":30,"y":378,"e":45},{"s":"shRNA H1a","t":35,"y":378,"e":45},{"s":"shRNA H1a","t":40,"y":370,"e":45},{"s":"shRNA H1a","t":45,"y":360,"e":40},{"s":"shRNA H1a","t":50,"y":350,"e":40},{"s":"shRNA H1a","t":55,"y":342,"e":40},{"s":"shRNA H1a","t":60,"y":335,"e":40},{"s":"shRNA H1a","t":65,"y":325,"e":35},{"s":"shRNA H1a","t":70,"y":315,"e":35},{"s":"shRNA H1a","t":75,"y":308,"e":35},{"s":"shRNA H1a","t":80,"y":300,"e":35},{"s":"shRNA H1a","t":85,"y":292,"e":35},{"s":"shRNA H1a","t":90,"y":282,"e":35},{"s":"shRNA H1a","t":95,"y":275,"e":35},{"s":"shRNA H1a","t":100,"y":268,"e":30},{"s":"shRNA H1a","t":105,"y":262,"e":30},{"s":"shRNA H1a","t":110,"y":256,"e":30},{"s":"shRNA H1a","t":115,"y":252,"e":30},{"s":"shRNA H1a","t":120,"y":246,"e":30},{"s":"shRNA H1a","t":125,"y":242,"e":30},{"s":"shRNA H1a","t":130,"y":240,"e":30},{"s":"shRNA H1a","t":135,"y":238,"e":30},{"s":"shRNA H1a","t":140,"y":235,"e":30},{"s":"shRNA H1a","t":145,"y":233,"e":30},{"s":"shRNA H1a","t":150,"y":231,"e":30},{"s":"shRNA H1a","t":155,"y":230,"e":30},{"s":"shRNA H1a","t":160,"y":228,"e":30},{"s":"shRNA H1a","t":165,"y":227,"e":30},{"s":"shRNA H1a","t":170,"y":226,"e":30},{"s":"shRNA H1a","t":175,"y":225,"e":30},{"s":"shRNA H1a","t":180,"y":225,"e":30}
    ]},
    "encoding": {"x": {"field": "t", "type": "quantitative", "scale": {"domain": [-12, 182], "nice": false, "zero": false}, "axis": {"values": [0, 30, 60, 90, 120, 150, 180], "title": "Traumatic injury time (min)"}},
      "y": {"field": "y", "type": "quantitative", "scale": {"domain": [0, 800], "nice": false}, "axis": {"values": [0, 200, 400, 600, 800], "labelOverlap": false, "title": ["Calcium concentration", "(% of baseline)"]}},
      "color": {"field": "s", "type": "nominal", "scale": {"domain": ["shRNA Con", "shRNA H1a"], "range": ["#e31a1c", "#2e9a2e"]}, "legend": {"title": null, "orient": "right", "offset": -14}}},
    "layer": [
     {"mark": {"type": "line", "strokeWidth": 1}},
     {"mark": {"type": "point", "filled": true, "size": 10, "opacity": 1}, "encoding": {"shape": {"field": "s", "type": "nominal", "scale": {"domain": ["shRNA Con", "shRNA H1a"], "range": ["circle", "triangle-up"]}, "legend": {"title": null, "orient": "right", "offset": -14}}}},
     {"mark": {"type": "errorbar", "ticks": {"size": 4}, "thickness": 0.8, "opacity": 0.5}, "encoding": {"yError": {"field": "e"}}}
    ]}
  ]},
  {"spacing": 4, "resolve": {"scale": {"color": "independent", "shape": "independent"}}, "vconcat": [
   {"width": 124, "height": 26,
    "data": {"values": [{"k": "0 h", "top": "LV", "kind": "t"}, {"k": "72 h", "top": "Ro 67-7476", "kind": "t"}, {"k": "75 h", "top": "", "kind": "t"}]},
    "encoding": {"x": {"field": "k", "type": "ordinal", "scale": {"type": "point", "domain": ["0 h", "q1", "q2", "72 h", "75 h"], "padding": 0.08, "align": 1}, "axis": null}, "y": {"datum": 0, "type": "quantitative", "scale": {"domain": [-1, 1]}, "axis": null}},
    "layer": [
     {"mark": {"type": "line", "color": "black", "strokeWidth": 1}},
     {"mark": {"type": "rule", "color": "black"}, "transform": [{"filter": "datum.kind=='t'"}], "encoding": {"y2": {"datum": -0.3}}},
     {"mark": {"type": "text", "baseline": "bottom", "dy": -3, "fontSize": 8, "fontWeight": "bold"}, "encoding": {"text": {"field": "top"}}},
     {"mark": {"type": "text", "baseline": "top", "dy": 5, "fontSize": 8, "fontWeight": "bold"}, "transform": [{"filter": "datum.kind=='t'"}], "encoding": {"text": {"field": "k"}}},
     {"data": {"values": [{}]}, "mark": {"type": "text", "text": "h", "fontSize": 15, "fontWeight": "bold", "dx": -38, "dy": -9, "baseline": "middle"}, "encoding": {"x": {"datum": "0 h", "type": "ordinal"}}}
    ]},
   {"width": 124, "height": 88,
    "encoding": {"x": {"field": "t", "type": "quantitative", "scale": {"domain": [-12, 182], "nice": false, "zero": false}, "axis": {"values": [0, 30, 60, 90, 120, 150, 180], "title": "Ro 67-7476 treatment time (min)"}},
      "y": {"field": "y", "type": "quantitative", "scale": {"domain": [0, 400], "nice": false}, "axis": {"values": [0, 100, 200, 300, 400], "labelOverlap": false, "title": ["Calcium concentration", "(% of baseline)"]}}},
    "layer": [
     {"data": {"values": [{"t": 5}, {"t": 180}]}, "mark": {"type": "rule", "strokeDash": [3, 2], "strokeWidth": 1.5, "color": "black"}, "encoding": {"y": null}},
     {"data": {"values": [{"t": 9, "t2": 82, "y": 382}, {"t": 112, "t2": 176, "y": 382}]}, "mark": {"type": "rule", "color": "#555", "strokeWidth": 1}, "encoding": {"x2": {"field": "t2"}}},
     {"data": {"values": [{"t": 10, "y": 382}]}, "mark": {"type": "point", "shape": "triangle-left", "filled": true, "size": 16, "color": "#555", "opacity": 1}},
     {"data": {"values": [{"t": 175, "y": 382}]}, "mark": {"type": "point", "shape": "triangle-right", "filled": true, "size": 16, "color": "#555", "opacity": 1}},
     {"data": {"values": [{"t": 99, "y": 382}]}, "mark": {"type": "text", "text": "*", "fontSize": 11, "fontWeight": "bold", "baseline": "alphabetic", "dy": 6}},
     {"data": {"values": [
{"s":"Vector","t":-10,"y":100,"e":0},{"s":"Vector","t":-5,"y":100,"e":0},{"s":"Vector","t":0,"y":100,"e":0},{"s":"Vector","t":5,"y":255,"e":25},{"s":"Vector","t":10,"y":310,"e":35},{"s":"Vector","t":15,"y":326,"e":35},{"s":"Vector","t":20,"y":325,"e":35},{"s":"Vector","t":25,"y":323,"e":35},{"s":"Vector","t":30,"y":320,"e":35},{"s":"Vector","t":35,"y":312,"e":35},{"s":"Vector","t":40,"y":300,"e":35},{"s":"Vector","t":45,"y":290,"e":35},{"s":"Vector","t":50,"y":282,"e":35},{"s":"Vector","t":55,"y":275,"e":30},{"s":"Vector","t":60,"y":270,"e":30},{"s":"Vector","t":65,"y":260,"e":30},{"s":"Vector","t":70,"y":250,"e":30},{"s":"Vector","t":75,"y":243,"e":30},{"s":"Vector","t":80,"y":238,"e":30},{"s":"Vector","t":85,"y":235,"e":30},{"s":"Vector","t":90,"y":233,"e":30},{"s":"Vector","t":95,"y":232,"e":30},{"s":"Vector","t":100,"y":228,"e":30},{"s":"Vector","t":105,"y":225,"e":30},{"s":"Vector","t":110,"y":222,"e":30},{"s":"Vector","t":115,"y":220,"e":25},{"s":"Vector","t":120,"y":219,"e":25},{"s":"Vector","t":125,"y":217,"e":25},{"s":"Vector","t":130,"y":214,"e":25},{"s":"Vector","t":135,"y":212,"e":25},{"s":"Vector","t":140,"y":210,"e":25},{"s":"Vector","t":145,"y":207,"e":25},{"s":"Vector","t":150,"y":204,"e":25},{"s":"Vector","t":155,"y":200,"e":25},{"s":"Vector","t":160,"y":192,"e":25},{"s":"Vector","t":165,"y":195,"e":25},{"s":"Vector","t":170,"y":192,"e":25},{"s":"Vector","t":175,"y":190,"e":25},{"s":"Vector","t":180,"y":186,"e":25},
{"s":"Flag-H1a","t":-10,"y":100,"e":0},{"s":"Flag-H1a","t":-5,"y":100,"e":0},{"s":"Flag-H1a","t":0,"y":100,"e":0},{"s":"Flag-H1a","t":5,"y":160,"e":20},{"s":"Flag-H1a","t":10,"y":190,"e":25},{"s":"Flag-H1a","t":15,"y":198,"e":28},{"s":"Flag-H1a","t":20,"y":199,"e":28},{"s":"Flag-H1a","t":25,"y":197,"e":28},{"s":"Flag-H1a","t":30,"y":194,"e":28},{"s":"Flag-H1a","t":35,"y":190,"e":28},{"s":"Flag-H1a","t":40,"y":186,"e":28},{"s":"Flag-H1a","t":45,"y":182,"e":25},{"s":"Flag-H1a","t":50,"y":180,"e":25},{"s":"Flag-H1a","t":55,"y":176,"e":25},{"s":"Flag-H1a","t":60,"y":170,"e":25},{"s":"Flag-H1a","t":65,"y":166,"e":25},{"s":"Flag-H1a","t":70,"y":162,"e":25},{"s":"Flag-H1a","t":75,"y":158,"e":25},{"s":"Flag-H1a","t":80,"y":154,"e":22},{"s":"Flag-H1a","t":85,"y":150,"e":22},{"s":"Flag-H1a","t":90,"y":148,"e":22},{"s":"Flag-H1a","t":95,"y":146,"e":22},{"s":"Flag-H1a","t":100,"y":144,"e":22},{"s":"Flag-H1a","t":105,"y":142,"e":22},{"s":"Flag-H1a","t":110,"y":140,"e":22},{"s":"Flag-H1a","t":115,"y":138,"e":20},{"s":"Flag-H1a","t":120,"y":136,"e":20},{"s":"Flag-H1a","t":125,"y":134,"e":20},{"s":"Flag-H1a","t":130,"y":133,"e":20},{"s":"Flag-H1a","t":135,"y":132,"e":20},{"s":"Flag-H1a","t":140,"y":131,"e":20},{"s":"Flag-H1a","t":145,"y":130,"e":20},{"s":"Flag-H1a","t":150,"y":129,"e":20},{"s":"Flag-H1a","t":155,"y":127,"e":20},{"s":"Flag-H1a","t":160,"y":126,"e":20},{"s":"Flag-H1a","t":165,"y":125,"e":20},{"s":"Flag-H1a","t":170,"y":122,"e":20},{"s":"Flag-H1a","t":175,"y":118,"e":20},{"s":"Flag-H1a","t":180,"y":114,"e":20}
     ]},
      "encoding": {"color": {"field": "s", "type": "nominal", "scale": {"domain": ["Vector", "Flag-H1a"], "range": ["#e31a1c", "#1f1fa8"]}, "legend": {"title": null}}},
      "layer": [
       {"mark": {"type": "line", "strokeWidth": 1}},
       {"mark": {"type": "point", "filled": true, "size": 10, "opacity": 1}, "encoding": {"shape": {"field": "s", "type": "nominal", "scale": {"domain": ["Vector", "Flag-H1a"], "range": ["circle", "triangle-up"]}, "legend": {"title": null}}}},
       {"mark": {"type": "errorbar", "ticks": {"size": 4}, "thickness": 0.8, "opacity": 0.5}, "encoding": {"yError": {"field": "e"}}}
      ]}
    ]}
  ]},
  {"spacing": 4, "resolve": {"scale": {"color": "independent", "shape": "independent"}}, "vconcat": [
   {"width": 120, "height": 26,
    "data": {"values": [{"k": "0 h", "top": "LV", "kind": "t"}, {"k": "72 h", "top": "Ro 67-7476", "kind": "t"}, {"k": "75 h", "top": "", "kind": "t"}]},
    "encoding": {"x": {"field": "k", "type": "ordinal", "scale": {"type": "point", "domain": ["0 h", "q1", "q2", "72 h", "75 h"], "padding": 0.08, "align": 1}, "axis": null}, "y": {"datum": 0, "type": "quantitative", "scale": {"domain": [-1, 1]}, "axis": null}},
    "layer": [
     {"mark": {"type": "line", "color": "black", "strokeWidth": 1}},
     {"mark": {"type": "rule", "color": "black"}, "transform": [{"filter": "datum.kind=='t'"}], "encoding": {"y2": {"datum": -0.3}}},
     {"mark": {"type": "text", "baseline": "bottom", "dy": -3, "fontSize": 8, "fontWeight": "bold"}, "encoding": {"text": {"field": "top"}}},
     {"mark": {"type": "text", "baseline": "top", "dy": 5, "fontSize": 8, "fontWeight": "bold"}, "transform": [{"filter": "datum.kind=='t'"}], "encoding": {"text": {"field": "k"}}},
     {"data": {"values": [{}]}, "mark": {"type": "text", "text": "i", "fontSize": 15, "fontWeight": "bold", "dx": -34, "dy": -11, "baseline": "middle"}, "encoding": {"x": {"datum": "0 h", "type": "ordinal"}}}
    ]},
   {"width": 120, "height": 88,
    "encoding": {"x": {"field": "t", "type": "quantitative", "scale": {"domain": [-12, 182], "nice": false, "zero": false}, "axis": {"values": [0, 30, 60, 90, 120, 150, 180], "title": "Ro 67-7476 treatment time (min)"}},
      "y": {"field": "y", "type": "quantitative", "scale": {"domain": [0, 600], "nice": false}, "axis": {"values": [0, 200, 400, 600], "labelOverlap": false, "title": ["Calcium concentration", "(% of baseline)"]}}},
    "layer": [
     {"data": {"values": [{"t": 5}, {"t": 180}]}, "mark": {"type": "rule", "strokeDash": [3, 2], "strokeWidth": 1.5, "color": "black"}, "encoding": {"y": null}},
     {"data": {"values": [{"t": 9, "t2": 78, "y": 575}, {"t": 110, "t2": 176, "y": 575}]}, "mark": {"type": "rule", "color": "#555", "strokeWidth": 1}, "encoding": {"x2": {"field": "t2"}}},
     {"data": {"values": [{"t": 10, "y": 575}]}, "mark": {"type": "point", "shape": "triangle-left", "filled": true, "size": 16, "color": "#555", "opacity": 1}},
     {"data": {"values": [{"t": 175, "y": 575}]}, "mark": {"type": "point", "shape": "triangle-right", "filled": true, "size": 16, "color": "#555", "opacity": 1}},
     {"data": {"values": [{"t": 95, "y": 575}]}, "mark": {"type": "text", "text": "#", "fontSize": 9, "fontWeight": "bold", "baseline": "alphabetic", "dy": 3}},
     {"data": {"values": [
{"s":"shRNA Con","t":-10,"y":100,"e":0},{"s":"shRNA Con","t":-5,"y":100,"e":0},{"s":"shRNA Con","t":0,"y":100,"e":0},{"s":"shRNA Con","t":5,"y":250,"e":25},{"s":"shRNA Con","t":10,"y":290,"e":30},{"s":"shRNA Con","t":15,"y":311,"e":35},{"s":"shRNA Con","t":20,"y":308,"e":35},{"s":"shRNA Con","t":25,"y":305,"e":35},{"s":"shRNA Con","t":30,"y":300,"e":35},{"s":"shRNA Con","t":35,"y":295,"e":35},{"s":"shRNA Con","t":40,"y":285,"e":30},{"s":"shRNA Con","t":45,"y":270,"e":30},{"s":"shRNA Con","t":50,"y":258,"e":30},{"s":"shRNA Con","t":55,"y":245,"e":30},{"s":"shRNA Con","t":60,"y":238,"e":30},{"s":"shRNA Con","t":65,"y":232,"e":30},{"s":"shRNA Con","t":70,"y":228,"e":30},{"s":"shRNA Con","t":75,"y":224,"e":30},{"s":"shRNA Con","t":80,"y":221,"e":25},{"s":"shRNA Con","t":85,"y":220,"e":25},{"s":"shRNA Con","t":90,"y":219,"e":25},{"s":"shRNA Con","t":95,"y":216,"e":25},{"s":"shRNA Con","t":100,"y":212,"e":25},{"s":"shRNA Con","t":105,"y":208,"e":25},{"s":"shRNA Con","t":110,"y":205,"e":25},{"s":"shRNA Con","t":115,"y":204,"e":25},{"s":"shRNA Con","t":120,"y":203,"e":25},{"s":"shRNA Con","t":125,"y":201,"e":25},{"s":"shRNA Con","t":130,"y":200,"e":25},{"s":"shRNA Con","t":135,"y":198,"e":25},{"s":"shRNA Con","t":140,"y":197,"e":25},{"s":"shRNA Con","t":145,"y":196,"e":25},{"s":"shRNA Con","t":150,"y":195,"e":25},{"s":"shRNA Con","t":155,"y":190,"e":25},{"s":"shRNA Con","t":160,"y":186,"e":25},{"s":"shRNA Con","t":165,"y":183,"e":25},{"s":"shRNA Con","t":170,"y":180,"e":25},{"s":"shRNA Con","t":175,"y":177,"e":25},{"s":"shRNA Con","t":180,"y":174,"e":25},
{"s":"shRNA H1a","t":-10,"y":100,"e":0},{"s":"shRNA H1a","t":-5,"y":100,"e":0},{"s":"shRNA H1a","t":0,"y":100,"e":0},{"s":"shRNA H1a","t":5,"y":300,"e":40},{"s":"shRNA H1a","t":10,"y":430,"e":50},{"s":"shRNA H1a","t":15,"y":484,"e":55},{"s":"shRNA H1a","t":20,"y":484,"e":55},{"s":"shRNA H1a","t":25,"y":475,"e":55},{"s":"shRNA H1a","t":30,"y":468,"e":55},{"s":"shRNA H1a","t":35,"y":455,"e":55},{"s":"shRNA H1a","t":40,"y":440,"e":50},{"s":"shRNA H1a","t":45,"y":420,"e":50},{"s":"shRNA H1a","t":50,"y":400,"e":50},{"s":"shRNA H1a","t":55,"y":385,"e":50},{"s":"shRNA H1a","t":60,"y":376,"e":50},{"s":"shRNA H1a","t":65,"y":360,"e":45},{"s":"shRNA H1a","t":70,"y":345,"e":45},{"s":"shRNA H1a","t":75,"y":338,"e":45},{"s":"shRNA H1a","t":80,"y":332,"e":45},{"s":"shRNA H1a","t":85,"y":328,"e":45},{"s":"shRNA H1a","t":90,"y":323,"e":45},{"s":"shRNA H1a","t":95,"y":318,"e":40},{"s":"shRNA H1a","t":100,"y":313,"e":40},{"s":"shRNA H1a","t":105,"y":308,"e":40},{"s":"shRNA H1a","t":110,"y":304,"e":40},{"s":"shRNA H1a","t":115,"y":302,"e":40},{"s":"shRNA H1a","t":120,"y":300,"e":40},{"s":"shRNA H1a","t":125,"y":298,"e":40},{"s":"shRNA H1a","t":130,"y":297,"e":40},{"s":"shRNA H1a","t":135,"y":296,"e":40},{"s":"shRNA H1a","t":140,"y":294,"e":40},{"s":"shRNA H1a","t":145,"y":291,"e":40},{"s":"shRNA H1a","t":150,"y":289,"e":40},{"s":"shRNA H1a","t":155,"y":287,"e":40},{"s":"shRNA H1a","t":160,"y":284,"e":40},{"s":"shRNA H1a","t":165,"y":280,"e":40},{"s":"shRNA H1a","t":170,"y":275,"e":40},{"s":"shRNA H1a","t":175,"y":268,"e":40},{"s":"shRNA H1a","t":180,"y":261,"e":40}
     ]},
      "encoding": {"color": {"field": "s", "type": "nominal", "scale": {"domain": ["shRNA Con", "shRNA H1a"], "range": ["#e31a1c", "#2e9a2e"]}, "legend": {"title": null}}},
      "layer": [
       {"mark": {"type": "line", "strokeWidth": 1}},
       {"mark": {"type": "point", "filled": true, "size": 10, "opacity": 1}, "encoding": {"shape": {"field": "s", "type": "nominal", "scale": {"domain": ["shRNA Con", "shRNA H1a"], "range": ["circle", "triangle-up"]}, "legend": {"title": null}}}},
       {"mark": {"type": "errorbar", "ticks": {"size": 4}, "thickness": 0.8, "opacity": 0.5}, "encoding": {"yError": {"field": "e"}}}
      ]}
    ]}
  ]}
 ]
}
]
}
